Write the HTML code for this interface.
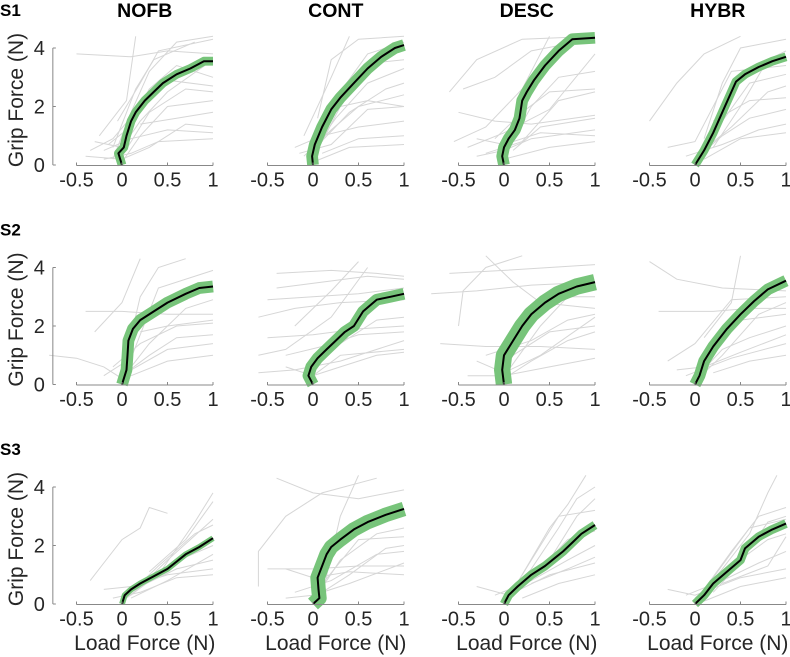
<!DOCTYPE html>
<html><head><meta charset="utf-8">
<style>
html,body{margin:0;padding:0;background:#fff;}
svg{display:block;font-family:"Liberation Sans",sans-serif;}
</style></head>
<body>
<svg id="chart" width="790" height="657" viewBox="0 0 790 657"></svg>
<script>
const conditions = ["NOFB","CONT","DESC","HYBR"];
const subjects = ["S1","S2","S3"];
const xTicks = [-0.5,0,0.5,1];
const xTickLabels = ["-0.5","0","0.5","1"];
const yTicks = [0,2,4];
const yTickLabels = ["0","2","4"];

// mean curves [x, y] per panel (row-major: S1 NOFB..HYBR, S2..., S3...)
const meanCurves = [
 [[0,0],[-0.02,0.2],[-0.04,0.4],[0.02,0.6],[0.05,1.0],[0.1,1.5],[0.15,1.8],[0.25,2.2],[0.35,2.5],[0.45,2.8],[0.6,3.1],[0.75,3.3],[0.9,3.55],[1,3.55]],
 [[0,0],[-0.01,0.3],[0.02,0.7],[0.1,1.3],[0.2,1.9],[0.3,2.3],[0.45,2.8],[0.6,3.3],[0.75,3.7],[0.9,4.0],[1,4.1]],
 [[0,0],[-0.02,0.3],[0,0.6],[0.05,0.9],[0.12,1.2],[0.17,1.6],[0.2,2.2],[0.25,2.5],[0.33,2.9],[0.45,3.4],[0.6,3.9],[0.75,4.3],[1,4.35]],
 [[0,0],[0.1,0.5],[0.2,1.1],[0.3,1.8],[0.4,2.5],[0.45,2.85],[0.55,3.1],[0.7,3.35],[0.85,3.55],[1,3.7]],
 [[0,0],[0.05,0.5],[0.06,1.0],[0.07,1.5],[0.12,1.9],[0.2,2.2],[0.35,2.5],[0.5,2.8],[0.7,3.1],[0.85,3.3],[1,3.35]],
 [[0,0],[-0.05,0.3],[-0.02,0.6],[0.05,0.9],[0.15,1.2],[0.25,1.5],[0.35,1.8],[0.45,2.0],[0.55,2.5],[0.7,2.9],[0.85,3.0],[1,3.1]],
 [[0,0],[-0.02,0.5],[0,1.0],[0.1,1.5],[0.2,2.0],[0.3,2.4],[0.45,2.8],[0.6,3.1],[0.8,3.35],[1,3.5]],
 [[0,0],[0.05,0.3],[0.1,0.8],[0.2,1.3],[0.35,1.9],[0.5,2.4],[0.65,2.85],[0.8,3.25],[1,3.55]],
 [[0,0],[0.03,0.3],[0.1,0.5],[0.2,0.7],[0.35,0.95],[0.5,1.2],[0.6,1.45],[0.7,1.7],[0.85,1.95],[1,2.25]],
 [[0,0],[0.07,0.2],[0.06,0.5],[0.05,0.9],[0.1,1.3],[0.15,1.7],[0.2,1.95],[0.3,2.2],[0.45,2.55],[0.6,2.8],[0.8,3.05],[1,3.25]],
 [[0,0],[0.05,0.3],[0.15,0.6],[0.3,1.0],[0.45,1.3],[0.55,1.55],[0.65,1.8],[0.75,2.1],[0.85,2.4],[1,2.7]],
 [[0,0],[0.1,0.3],[0.2,0.7],[0.35,1.1],[0.5,1.5],[0.55,1.9],[0.7,2.3],[0.85,2.55],[1,2.75]]
];
const bandWidths = [0.15,0.2,0.2,0.15,0.2,0.2,0.28,0.2,0.1,0.25,0.15,0.15];

// individual trial traces (light gray), per panel
const trials = [
 [[[-0.3,0.8],[0,0.6],[0.2,1.5],[0.5,2.5],[1,3.6]],[[-0.1,0.2],[0.1,1.8],[0.3,3.2],[0.6,4.2],[1,4.4]],[[-0.2,0.5],[0.1,0.9],[0.5,1.2],[1,1.1]],[[-0.05,1.5],[0.2,2.8],[0.4,3.9],[1,4.3]],[[-0.4,0.3],[0,0.2],[0.3,0.6],[0.7,1.4],[1,1.3]],[[-0.5,3.8],[0.1,3.7],[0.5,3.9],[1,3.8]],[[0,0.1],[0.2,1.0],[0.5,2.0],[1,2.2]],[[-0.15,0.7],[0.05,1.2],[0.3,2.6],[0.6,3.4],[1,3.0]],[[0.2,1.4],[0.6,1.6],[1,1.8]],[[-0.25,1.0],[0.05,2.2],[0.15,4.4]],[[-0.35,0.5],[-0.1,0.9],[0.2,2.0],[0.5,2.9],[1,2.7]],[[-0.2,0.2],[0.1,0.4],[0.4,0.8],[1,0.9]],[[0,0.3],[0.3,1.8],[0.7,2.6],[1,2.5]],[[-0.1,0.6],[0.15,2.6],[0.35,3.6],[0.8,4.2]]],
 [[[-0.1,0.3],[0.2,1.2],[0.5,2.0],[1,2.4]],[[0,0.2],[0.3,2.5],[0.6,3.8],[1,4.2]],[[-0.2,0.6],[0.1,1.0],[0.5,1.3],[1,1.5]],[[0,0.5],[0.4,1.8],[0.8,2.6],[1,2.8]],[[-0.1,1.0],[0.2,3.0],[0.4,4.4]],[[0.1,0.4],[0.5,0.9],[1,1.0]],[[0.3,2.0],[0.6,2.2],[1,2.0]],[[0.05,1.6],[0.2,3.6],[0.5,4.3],[1,4.4]],[[-0.05,0.3],[0.25,1.6],[0.6,2.8],[1,3.3]],[[0,0.1],[0.4,0.6],[1,0.7]],[[0.1,0.8],[0.4,2.6],[0.7,3.5],[1,3.6]],[[-0.15,0.4],[0.2,0.7],[0.6,1.9],[1,2.0]]],
 [[[-0.5,1.8],[-0.1,1.5],[0.3,1.4],[1,1.7]],[[-0.3,0.9],[0,0.7],[0.4,1.1],[1,1.0]],[[-0.6,2.5],[-0.3,3.6],[0.2,4.3],[1,4.4]],[[0,0.3],[0.3,2.0],[0.6,3.0],[1,3.2]],[[-0.2,0.4],[0.2,0.8],[0.6,2.2],[1,2.5]],[[-0.4,0.6],[0,1.1],[0.5,1.9],[1,3.8]],[[0.1,0.5],[0.4,1.3],[1,1.6]],[[-0.45,2.6],[-0.1,3.0],[0.3,3.9],[0.8,4.2]],[[-0.3,0.3],[0,0.5],[0.3,0.9],[1,1.2]],[[-0.1,0.9],[0.2,1.8],[0.5,2.5],[1,2.6]],[[-0.55,0.8],[-0.2,1.3],[0.2,2.6],[0.5,4.4]],[[0,0.2],[0.5,0.6],[1,0.8]]],
 [[[-0.5,1.5],[-0.2,2.8],[0.1,3.8],[0.5,4.4]],[[0,0.2],[0.3,1.0],[0.6,1.6],[1,1.9]],[[0.05,0.4],[0.4,1.3],[0.8,2.5],[1,2.7]],[[0.1,0.9],[0.3,2.8],[0.5,4.0],[1,4.3]],[[-0.1,0.3],[0.3,0.7],[0.7,1.2],[1,1.4]],[[0.2,1.5],[0.6,2.2],[1,2.3]],[[-0.3,0.6],[0,0.8],[0.4,3.2],[1,3.4]],[[0,0.1],[0.3,1.5],[0.6,2.8],[1,3.1]],[[0.1,0.2],[0.5,0.9],[1,1.1]],[[0.2,0.6],[0.5,2.0],[0.8,3.6],[1,3.9]]],
 [[[-0.8,1.0],[-0.5,0.9],[-0.2,0.6],[0,0.2]],[[-0.4,2.5],[0,2.5],[0.5,2.4],[1,2.4]],[[0,0.3],[0.3,1.0],[0.6,1.6],[1,1.7]],[[0.05,1.0],[0.2,3.0],[0.4,4.0],[0.7,4.3]],[[-0.3,1.8],[0,2.8],[0.2,4.3]],[[0.1,0.5],[0.5,1.2],[1,1.4]],[[0.2,1.8],[0.5,2.0],[1,2.2]],[[-0.2,0.3],[0.1,0.9],[0.4,3.3],[1,3.9]],[[0,0.2],[0.3,1.4],[0.7,2.6],[1,2.9]],[[-0.1,0.6],[0.2,1.4],[0.6,2.0],[1,2.1]],[[0.1,0.3],[0.5,0.8],[1,1.0]]],
 [[[-0.6,2.3],[-0.2,2.6],[0.3,2.8],[1,2.9]],[[-0.5,1.6],[0,1.7],[0.5,1.9],[1,2.0]],[[-0.4,3.3],[0.1,3.5],[0.6,3.7],[1,3.6]],[[-0.3,0.6],[0,0.3],[0.3,1.0],[1,1.2]],[[-0.6,1.0],[-0.3,1.2],[0.2,2.3],[0.6,4.0]],[[0,0.5],[0.3,1.4],[0.7,2.2],[1,2.3]],[[-0.2,2.0],[0.2,3.2],[0.5,4.2]],[[-0.5,2.9],[0,3.0],[0.5,3.1],[1,3.3]],[[-0.6,0.4],[-0.2,0.5],[0.3,0.8],[1,1.5]],[[-0.3,1.0],[0.1,1.3],[0.5,1.7],[1,1.8]],[[-0.1,0.2],[0.3,0.6],[0.7,1.0],[1,1.1]],[[-0.4,3.8],[0.2,3.9],[0.7,3.8],[1,3.7]]],
 [[[-0.8,3.1],[-0.3,3.2],[0.3,3.4],[1,3.5]],[[-0.7,1.4],[-0.2,1.3],[0.4,1.3],[1,1.2]],[[-0.5,2.0],[-0.45,3.2],[-0.2,4.0],[0.2,4.4]],[[0,0.2],[0.3,0.8],[0.7,1.5],[1,1.8]],[[-0.3,0.8],[0,0.4],[0.4,1.0],[1,2.3]],[[-0.2,4.4],[0.1,3.5],[0.4,2.8],[1,2.6]],[[-0.6,3.8],[0,3.9],[0.5,4.0],[1,4.1]],[[-0.1,0.6],[0.5,1.8],[1,2.0]],[[-0.4,0.3],[0,0.3],[0.5,0.6],[1,0.9]],[[0.05,0.5],[0.4,2.0],[0.7,3.0],[1,3.0]],[[-0.2,1.0],[0.3,1.5],[0.7,2.2],[1,2.4]]],
 [[[-0.5,4.2],[-0.2,3.6],[0.3,3.3],[1,3.2]],[[0,0.2],[0.3,1.2],[0.6,1.6],[1,2.0]],[[-0.3,0.8],[0,1.4],[0.4,2.9],[1,3.0]],[[-0.1,0.3],[0.4,0.9],[1,1.4]],[[0.1,1.6],[0.4,2.8],[0.5,4.4]],[[0.05,0.5],[0.5,2.2],[1,2.4]],[[-0.4,2.5],[0.2,2.5],[0.6,2.6],[1,2.6]],[[-0.2,0.5],[0.1,0.6],[0.5,1.1],[1,1.7]],[[0,0.1],[0.3,1.0],[0.7,2.4],[1,2.8]],[[0.2,0.4],[0.6,0.8],[1,1.0]]],
 [[[-0.35,0.8],[-0.2,1.4],[0,2.2],[0.2,2.6],[0.3,3.3],[0.5,3.1]],[[0,0.1],[0.3,0.8],[0.7,1.6],[1,2.0]],[[0.05,0.2],[0.4,1.0],[0.8,2.8],[1,3.8]],[[-0.2,0.5],[0.1,0.6],[0.5,1.0],[1,1.2]],[[0.1,0.3],[0.5,1.5],[1,2.9]],[[0.2,0.6],[0.6,1.2],[1,1.5]],[[0.3,1.1],[0.7,2.2],[1,3.5]],[[-0.1,0.2],[0.2,0.4],[0.6,0.9],[1,1.0]],[[0,0.1],[0.4,1.3],[0.8,2.4],[1,2.7]],[[0.1,0.2],[0.5,0.8],[1,1.7]]],
 [[[-0.6,0.6],[-0.6,1.8],[-0.3,3.0],[0.1,3.8],[0.7,4.3]],[[-0.3,1.2],[0,0.9],[0.4,1.1],[1,1.0]],[[0,0.1],[0.3,1.5],[0.7,2.4],[1,2.6]],[[-0.2,0.4],[0.2,0.8],[0.7,1.7],[1,1.8]],[[0.1,0.3],[0.3,3.0],[0.5,4.4]],[[-0.4,4.3],[0,3.8],[0.5,3.6],[1,3.9]],[[0.05,0.5],[0.5,2.2],[1,2.3]],[[-0.3,0.2],[0,0.3],[0.4,0.7],[1,1.4]],[[0.1,0.4],[0.4,1.0],[0.8,1.9],[1,2.0]],[[-0.5,1.2],[0,1.2],[0.5,1.3],[1,1.3]]],
 [[[0,0.1],[0.3,1.2],[0.6,2.6],[0.8,3.6],[1,4.0]],[[-0.1,0.3],[0.3,0.8],[0.7,1.5],[1,2.0]],[[0.1,0.5],[0.4,2.0],[0.6,3.0],[1,3.2]],[[-0.3,0.6],[0.05,0.3],[0.5,1.0],[1,1.4]],[[0.2,1.0],[0.5,2.6],[0.7,3.4],[0.9,4.4]],[[0.3,0.7],[0.7,1.2],[1,1.6]],[[0,0.2],[0.4,1.2],[0.7,2.2],[1,2.5]],[[0.1,0.3],[0.5,1.5],[0.8,3.0],[1,3.6]],[[0.2,0.2],[0.6,0.7],[1,1.0]]],
 [[[0,0.1],[0.3,1.2],[0.6,2.4],[0.8,3.8],[0.9,4.4]],[[-0.1,0.3],[0.3,0.8],[0.7,1.4],[1,1.8]],[[0.1,0.5],[0.4,1.8],[0.7,3.0],[1,3.3]],[[-0.3,0.5],[0,0.3],[0.5,0.9],[1,1.2]],[[0.2,0.9],[0.6,2.6],[1,2.9]],[[0.3,0.7],[0.8,1.3],[1,2.3]],[[0,0.2],[0.4,1.3],[0.8,2.2],[1,2.4]],[[0.1,0.1],[0.5,0.6],[1,0.9]],[[0.2,0.4],[0.5,1.4],[0.8,2.8],[1,3.0]]]
];

const NS = "http://www.w3.org/2000/svg";
const svg = document.getElementById("chart");
function mk(tag, attrs, parent){const e=document.createElementNS(NS,tag);for(const k in attrs)e.setAttribute(k,attrs[k]);(parent||svg).appendChild(e);return e;}

const colStep = 191, rowStep = 219.5;
const pxPerX = 91, pxPerY = 29.25;
function xScale(c, v){ return 122 + c*colStep + v*pxPerX; }
function yScale(r, v){ return 165 + r*rowStep - v*pxPerY; }
function path(pts, c, r){ return pts.map((p,i)=>(i?"L":"M")+xScale(c,p[0]).toFixed(1)+","+yScale(r,p[1]).toFixed(1)).join(""); }

conditions.forEach((name,c)=>{
  const t = mk("text",{x:xScale(c,0.25),y:17,"text-anchor":"middle","font-size":"19.5","font-weight":"bold"});
  
  
  t.textContent = name;
});

subjects.forEach((s,r)=>{
  const t = mk("text",{x:0,y:16+r*rowStep,"font-size":"17","font-weight":"bold"});
  
  
  t.textContent = s;
  const yl = mk("text",{transform:"translate(23,"+(100+r*rowStep)+") rotate(-90)","text-anchor":"middle","font-size":"21",fill:"#262626"});
  
  
  yl.textContent = "Grip Force (N)";
});

for(let r=0;r<3;r++){
  for(let c=0;c<4;c++){
    const idx = r*4+c;
    const g = mk("g",{});
    
    
    trials[idx].forEach((tr)=>{
      const p = mk("path",{d:path(tr,c,r),fill:"none",stroke:"#d6d6d6","stroke-width":"1"},g);
      
      
    });
    const band = mk("path",{d:path(meanCurves[idx],c,r),fill:"none",stroke:"#77c47a","stroke-width":(bandWidths[idx]*2*pxPerY).toFixed(1),"stroke-linejoin":"round","stroke-linecap":"butt"},g);
    
    
    const mean = mk("path",{d:path(meanCurves[idx],c,r),fill:"none",stroke:"#000","stroke-width":"2","stroke-linejoin":"round"},g);
    
    
    const y0 = yScale(r,0)+0.5;
    const xa = mk("line",{x1:xScale(c,-0.5),x2:xScale(c,1),y1:y0,y2:y0,stroke:"#888","stroke-width":"1"},g);
    
    
    xTicks.forEach((v,i)=>{
      mk("line",{x1:xScale(c,v),x2:xScale(c,v),y1:y0,y2:y0-3,stroke:"#888"},g);
      const tl = mk("text",{x:xScale(c,v),y:y0+21,"text-anchor":"middle","font-size":"20",fill:"#262626"},g);
      
      
      tl.textContent = xTickLabels[i];
    });
    if(c===0){
      const ax = xScale(c,-0.76);
      const ya = mk("line",{x1:ax,x2:ax,y1:yScale(r,0),y2:yScale(r,4),stroke:"#888","stroke-width":"1"},g);
      
      
      yTicks.forEach((v,i)=>{
        mk("line",{x1:ax,x2:ax+3,y1:yScale(r,v),y2:yScale(r,v),stroke:"#888"},g);
        const tl = mk("text",{x:ax-8,y:yScale(r,v)+7,"text-anchor":"end","font-size":"20",fill:"#262626"},g);
        
        
        tl.textContent = yTickLabels[i];
      });
    }
    if(r===2){
      const xl = mk("text",{x:xScale(c,0.25),y:650,"text-anchor":"middle","font-size":"21",fill:"#262626"},g);
      
      
      xl.textContent = "Load Force (N)";
    }
  }
}
</script>
</body></html>
